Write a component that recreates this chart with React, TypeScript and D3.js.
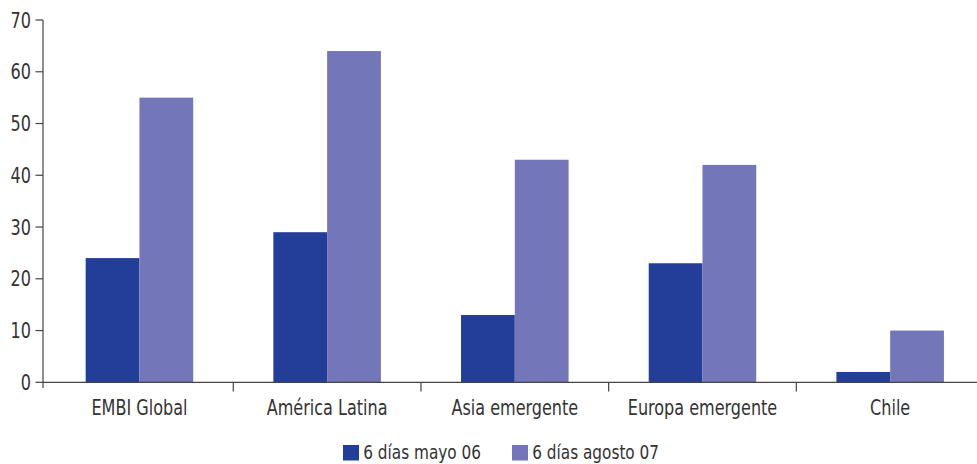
import React from "react";
import * as d3 from "d3";

const categories = ["EMBI Global", "América Latina", "Asia emergente", "Europa emergente", "Chile"];
const seriesNames = ["6 días mayo 06", "6 días agosto 07"];
const mayo06 = [24, 29, 13, 23, 2];
const agosto07 = [55, 64, 43, 42, 10];
const yTicks = [0, 10, 20, 30, 40, 50, 60, 70];
const colors = ["#233e99", "#7376b9"];

const W = 977;
const H = 464;
const FONT = "'DejaVu Sans Condensed', 'DejaVu Sans', sans-serif";
const SX = 0.85;

function T(props: { x: number; y: number; anchor?: string; children: React.ReactNode; size?: number }) {
  const { x, y, anchor = "start", children, size = 21 } = props;
  return (
    <text
      transform={`translate(${x},${y}) scale(${SX},1)`}
      textAnchor={anchor}
      fontSize={size}
      fill="#333"
      fontFamily={FONT}
    >
      {children}
    </text>
  );
}

export default function App() {
  const x = d3.scaleBand<string>().domain(categories).range([45.6, 984]).paddingInner(0).paddingOuter(0);
  const y = d3.scaleLinear().domain([0, 70]).range([382.3, 20]);
  const groupW = x.bandwidth() * 0.573;
  const xs = d3.scaleBand<string>().domain(seriesNames).range([0, groupW]).padding(0);
  const series = [mayo06, agosto07];
  const axisColor = "#444";
  return (
    <svg width={W} height={H} style={{ position: "absolute", left: 0, top: 0 }}>
      {series.map((vals, si) =>
        categories.map((c, ci) => {
          const x0 = (x(c) as number) + (x.bandwidth() - groupW) / 2 + (xs(seriesNames[si]) as number);
          return (
            <rect key={`${si}-${ci}`} x={x0} y={y(vals[ci])} width={xs.bandwidth()} height={y(0) - y(vals[ci])} fill={colors[si]} />
          );
        })
      )}
      {/* y axis */}
      <line x1={43} x2={43} y1={y(70)} y2={388} stroke={axisColor} strokeWidth={1.2} />
      {yTicks.map((t) => (
        <g key={t}>
          <line x1={35.5} x2={43} y1={y(t)} y2={y(t)} stroke={axisColor} strokeWidth={1.2} />
          <T x={31} y={y(t) + 7.5} anchor="end">
            {t}
          </T>
        </g>
      ))}
      {/* x axis */}
      <line x1={43} x2={977} y1={y(0)} y2={y(0)} stroke={axisColor} strokeWidth={1.2} />
      {categories.slice(1).map((c) => (
        <line key={c} x1={x(c) as number} x2={x(c) as number} y1={y(0)} y2={391.5} stroke={axisColor} strokeWidth={1.2} />
      ))}
      {categories.map((c) => (
        <T key={c} x={(x(c) as number) + x.bandwidth() / 2} y={415} anchor="middle">
          {c}
        </T>
      ))}
      {/* legend */}
      {[343, 512].map((lx, i) => (
        <g key={i}>
          <rect x={lx} y={445} width={16} height={15.5} fill={colors[i]} />
          <T x={lx + 20.3} y={459.3} size={20}>
            {seriesNames[i]}
          </T>
        </g>
      ))}
    </svg>
  );
}
